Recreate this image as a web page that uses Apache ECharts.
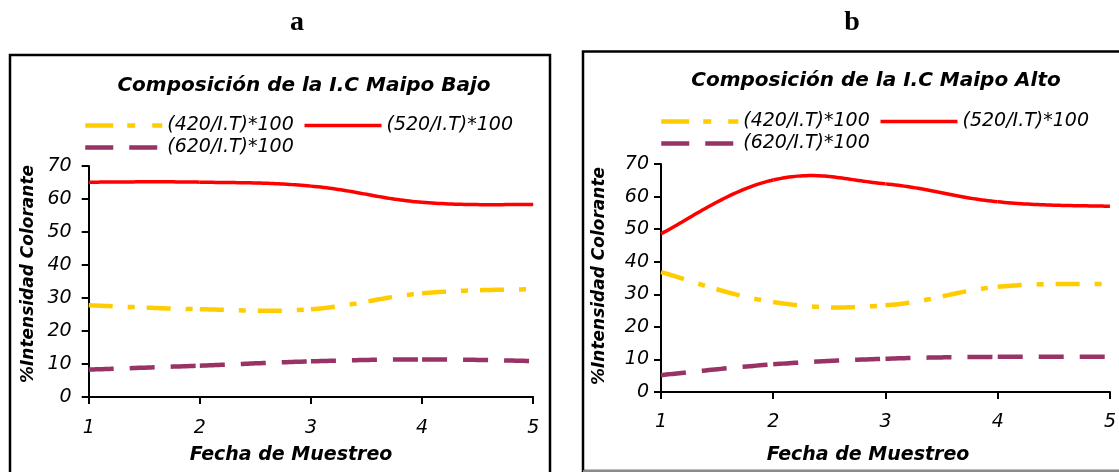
<!DOCTYPE html>
<html>
<head>
<meta charset="utf-8">
<script src="https://cdn.jsdelivr.net/npm/echarts@6/dist/echarts.min.js"></script>
<style>
  html, body { margin: 0; padding: 0; background: #fff; }
  #chart { width: 1119px; height: 472px; }
</style>
</head>
<body>
<div id="chart"></div>
<script>
// Sampling dates (x axis ticks)
const fechas = [1, 2, 3, 4, 5];

// Maipo Bajo: colour-intensity composition (%)
const bajo420 = [27.8, 26.6, 26.6, 31.4, 32.7];
const bajo520 = [65.1, 65.1, 63.9, 59.0, 58.3];
const bajo620 = [8.3, 9.5, 10.8, 11.4, 10.9];

// Maipo Alto: colour-intensity composition (%)
const alto420 = [36.8, 27.6, 26.6, 32.3, 33.2];
const alto520 = [48.6, 65.1, 63.9, 58.4, 57.0];
const alto620 = [5.2, 8.5, 10.2, 10.8, 10.8];

const serieNames = ['(420/I.T)*100', '(520/I.T)*100', '(620/I.T)*100'];
const titles = ['Composición de la I.C Maipo Bajo', 'Composición de la I.C Maipo Alto'];
const panelLabels = ['a', 'b'];
const xName = 'Fecha de Muestreo';
const yName = '%Intensidad Colorante';

const FONT = '"DejaVu Sans", sans-serif';
// dash: pattern along the curve (restarts at every data point); key: pattern for the legend sample
const styles = [
  { color: '#FFCC00', width: 4.5, dash: [24, 15, 7, 12], key: [28, 14, 8, 17] },
  { color: '#FF0000', width: 3.5, dash: null, key: null },
  { color: '#993366', width: 4.5, dash: [25, 16], key: [28, 16] }
];

function pairs(vals) {
  return fechas.map((x, i) => [x, vals[i]]);
}

// One smoothed piece per pair of neighbouring points (cubic Bezier, tangent tension k),
// each returned as a dense list of pixel points.
function smoothPieces(pts, k, steps) {
  const pieces = [];
  const n = pts.length;
  for (let i = 0; i < n - 1; i++) {
    const p0 = pts[i], p1 = pts[i + 1];
    const c1 = i === 0
      ? [p0[0] + k * (p1[0] - p0[0]), p0[1] + k * (p1[1] - p0[1])]
      : [p0[0] + k * (p1[0] - pts[i - 1][0]), p0[1] + k * (p1[1] - pts[i - 1][1])];
    const c2 = i + 2 >= n
      ? [p1[0] - k * (p1[0] - p0[0]), p1[1] - k * (p1[1] - p0[1])]
      : [p1[0] - k * (pts[i + 2][0] - p0[0]), p1[1] - k * (pts[i + 2][1] - p0[1])];
    const piece = [p0];
    for (let s = 1; s <= steps; s++) {
      const t = s / steps, u = 1 - t;
      const w0 = u * u * u, w1 = 3 * u * u * t, w2 = 3 * u * t * t, w3 = t * t * t;
      piece.push([
        w0 * p0[0] + w1 * c1[0] + w2 * c2[0] + w3 * p1[0],
        w0 * p0[1] + w1 * c1[1] + w2 * c2[1] + w3 * p1[1]
      ]);
    }
    pieces.push(piece);
  }
  return pieces;
}

// Cut a polyline into its "on" dashes following a dash pattern.
function dashSplit(pts, pattern) {
  if (!pattern) return [pts];
  const out = [];
  let k = 0, remain = pattern[0], on = true, cur = [pts[0]];
  for (let i = 1; i < pts.length; i++) {
    let ax = pts[i - 1][0], ay = pts[i - 1][1];
    const bx = pts[i][0], by = pts[i][1];
    let len = Math.hypot(bx - ax, by - ay);
    while (len > remain) {
      const t = remain / len;
      const mx = ax + (bx - ax) * t, my = ay + (by - ay) * t;
      if (on) { cur.push([mx, my]); out.push(cur); }
      else { cur = [[mx, my]]; }
      on = !on;
      k = (k + 1) % pattern.length;
      len -= remain; ax = mx; ay = my;
      remain = pattern[k];
    }
    remain -= len;
    if (on) cur.push([bx, by]);
  }
  if (on && cur.length > 1) out.push(cur);
  return out;
}

// Custom series: one smoothed, dashed curve per data array, positioned with the axes' scales.
function curveSeries(id, vals, idx, axisIdx) {
  const st = styles[idx];
  return {
    id, name: id,
    type: 'custom',
    xAxisIndex: axisIdx,
    yAxisIndex: axisIdx,
    data: pairs(vals),
    encode: { x: 0, y: 1 },
    clip: false,
    silent: true,
    renderItem: function (params, api) {
      if (params.dataIndex !== 0) return null;
      const pts = fechas.map((x, i) => api.coord([x, vals[i]]));
      const children = [];
      smoothPieces(pts, 0.2, 40).forEach(piece => {
        dashSplit(piece, st.dash).forEach(d => {
          children.push({
            type: 'polyline',
            shape: { points: d },
            style: { stroke: st.color, lineWidth: st.width, fill: 'none', lineCap: 'butt', lineJoin: 'round' }
          });
        });
      });
      return { type: 'group', children };
    }
  };
}

// Empty line series that only provide the legend keys.
function legendKey(idx) {
  const st = styles[idx];
  return {
    name: serieNames[idx],
    type: 'line',
    xAxisIndex: 0, yAxisIndex: 0,
    data: [],
    symbol: 'none',
    lineStyle: { color: st.color, width: st.width, type: st.key || 'solid', cap: 'butt' },
    itemStyle: { color: st.color }
  };
}

function xAxisCfg(gridIndex, margin) {
  return {
    type: 'value', gridIndex, min: 1, max: 5, interval: 1,
    axisLine: { show: true, lineStyle: { color: '#000', width: 2 } },
    axisTick: { show: true, length: 7, lineStyle: { color: '#000', width: 2 } },
    axisLabel: { margin, fontFamily: FONT, fontStyle: 'italic', fontSize: 19, color: '#000' },
    splitLine: { show: false }
  };
}

function yAxisCfg(gridIndex, margin) {
  return {
    type: 'value', gridIndex, min: 0, max: 70, interval: 10,
    axisLine: { show: true, lineStyle: { color: '#000', width: 2 } },
    axisTick: { show: true, length: 7, lineStyle: { color: '#000', width: 2 } },
    axisLabel: { margin, fontFamily: FONT, fontStyle: 'italic', fontSize: 19, color: '#000' },
    splitLine: { show: false }
  };
}

const legendText = { fontFamily: FONT, fontStyle: 'italic', fontSize: 19, color: '#000' };
function legendCfg(left, top, idxs) {
  return {
    left, top, orient: 'horizontal', padding: 0,
    itemWidth: 77, itemHeight: 14, itemGap: 9,
    selectedMode: false,
    itemStyle: { opacity: 0 },
    data: idxs.map(i => ({
      name: serieNames[i],
      itemStyle: { opacity: 0 },
      lineStyle: { color: styles[i].color, width: styles[i].width, type: styles[i].key || 'solid', cap: 'butt' }
    })),
    textStyle: legendText
  };
}

const titleStyle = { fontFamily: FONT, fontStyle: 'italic', fontWeight: 'bold', fontSize: 20, color: '#000' };
const labelStyle = { fontFamily: '"Liberation Serif", serif', fontWeight: 'bold', fontSize: 28, color: '#000' };

const chart = echarts.init(document.getElementById('chart'), null, { renderer: 'canvas' });

chart.setOption({
  animation: false,
  backgroundColor: '#fff',
  title: [
    { text: panelLabels[0], left: 297, top: 9, textAlign: 'center', padding: 0, textStyle: labelStyle },
    { text: panelLabels[1], left: 852, top: 9, textAlign: 'center', padding: 0, textStyle: labelStyle },
    { text: titles[0], left: 304, top: 76, textAlign: 'center', padding: 0, textStyle: titleStyle },
    { text: titles[1], left: 876, top: 71, textAlign: 'center', padding: 0, textStyle: titleStyle }
  ],
  legend: [
    legendCfg(83, 116, [0, 1]),
    legendCfg(83, 138, [2]),
    legendCfg(659, 112, [0, 1]),
    legendCfg(659, 134, [2])
  ],
  grid: [
    { left: 88.7, top: 166, width: 444.5, height: 231 },
    { left: 661, top: 164, width: 449, height: 228 }
  ],
  xAxis: [xAxisCfg(0, 22), xAxisCfg(1, 21)],
  yAxis: [yAxisCfg(0, 17), yAxisCfg(1, 12)],
  series: [
    legendKey(0), legendKey(1), legendKey(2),
    curveSeries('bajo420', bajo420, 0, 0),
    curveSeries('bajo520', bajo520, 1, 0),
    curveSeries('bajo620', bajo620, 2, 0),
    curveSeries('alto420', alto420, 0, 1),
    curveSeries('alto520', alto520, 1, 1),
    curveSeries('alto620', alto620, 2, 1)
  ],
  graphic: [
    // panel frames
    { type: 'rect', shape: { x: 10, y: 55, width: 540, height: 440 },
      style: { fill: 'none', stroke: '#000', lineWidth: 2.5 }, silent: true },
    { type: 'rect', shape: { x: 583, y: 51.5, width: 600, height: 419.5 },
      style: { fill: 'none', stroke: '#000', lineWidth: 2.5 }, silent: true },
    { type: 'line', shape: { x1: 583, y1: 471, x2: 1119, y2: 471 },
      style: { stroke: '#8a8a8a', lineWidth: 2 }, silent: true },
    // axis names
    { type: 'text', x: 29, y: 274, rotation: Math.PI / 2,
      style: { text: yName, textAlign: 'center', textVerticalAlign: 'middle',
        font: 'italic bold 17px "DejaVu Sans"', fill: '#000' }, silent: true },
    { type: 'text', x: 600, y: 276, rotation: Math.PI / 2,
      style: { text: yName, textAlign: 'center', textVerticalAlign: 'middle',
        font: 'italic bold 17px "DejaVu Sans"', fill: '#000' }, silent: true },
    { type: 'text', x: 291, y: 455,
      style: { text: xName, textAlign: 'center', textVerticalAlign: 'middle',
        font: 'italic bold 19px "DejaVu Sans"', fill: '#000' }, silent: true },
    { type: 'text', x: 868, y: 455,
      style: { text: xName, textAlign: 'center', textVerticalAlign: 'middle',
        font: 'italic bold 19px "DejaVu Sans"', fill: '#000' }, silent: true }
  ]
});
</script>
</body>
</html>
